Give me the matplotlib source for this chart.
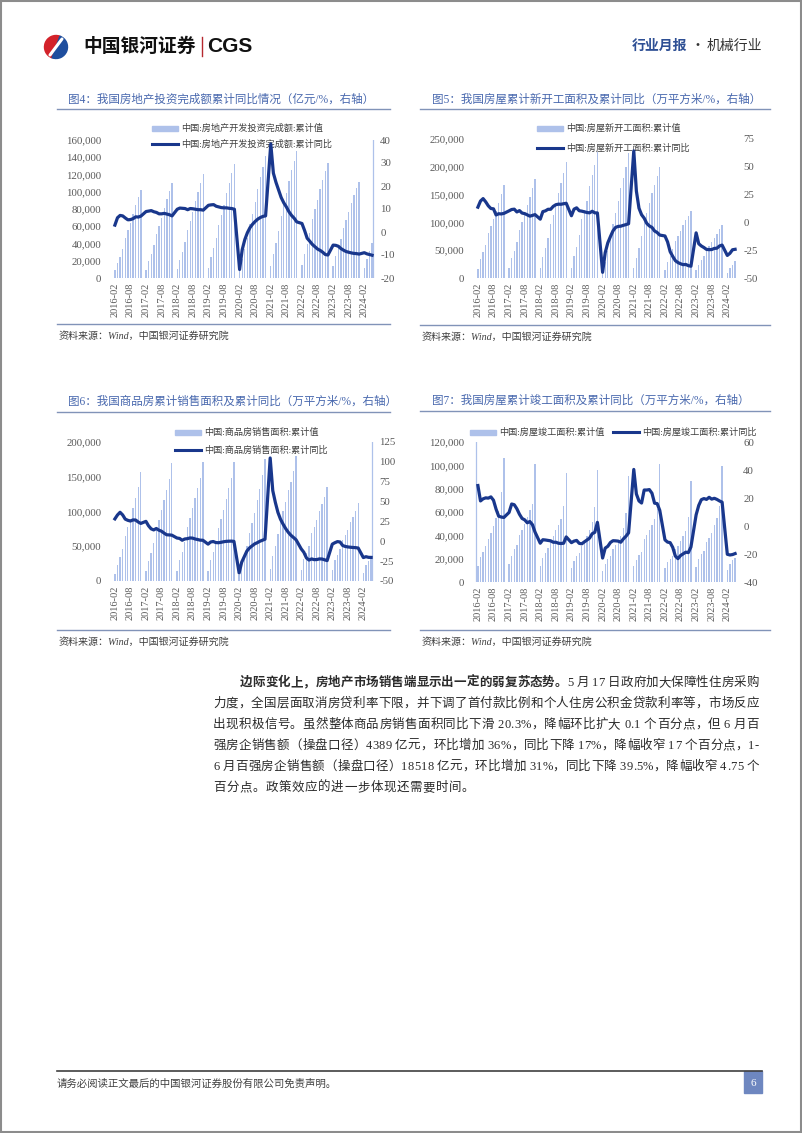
import numpy as np
import matplotlib
matplotlib.use("Agg")
import matplotlib.pyplot as plt
from matplotlib.patches import Rectangle, Wedge

SERIF = ['Liberation Serif', 'Noto Sans CJK SC', 'DejaVu Sans']
CJK = ['Noto Sans CJK SC', 'DejaVu Sans']
plt.rcParams['font.family'] = SERIF
plt.rcParams['axes.unicode_minus'] = False

BAR = '#AEC1EA'
LINE = '#19378C'
GRAY = '#595959'
TITLE = '#4868AE'
RULE = '#8193B8'

# ---- data: monthly cumulative (Jan-Feb merged), 2016-02 .. 2024-05 ----
months = []
for yr in range(2016, 2025):
    for mo in range(2, 13):
        if yr == 2024 and mo > 5:
            break
        months.append(f"{yr}-{mo:02d}")

# 房地产开发投资完成额 累计值 (亿元) / 累计同比 (%)
invest_cum = [8784, 17677, 24882, 33517, 46631, 55360, 64005, 74598, 84237, 93387, 102581,
              9478, 19292, 27732, 37703, 50610, 59761, 69694, 80644, 91174, 100387, 109799,
              10115, 21291, 30592, 41961, 55531, 66030, 76519, 88948, 99325, 110083, 120264,
              12090, 23803, 34217, 46075, 61609, 72843, 84589, 98008, 109603, 121265, 132194,
              10115, 21963, 33103, 45920, 62780, 74205, 88454, 103484, 116556, 128492, 141443,
              13986, 27576, 40240, 54318, 72179, 84895, 98060, 112568, 124934, 136084, 147602,
              14499, 27765, 39154, 52134, 68314, 79462, 90809, 103559, 113945, 123863, 132895,
              13669, 25974, 35514, 45701, 58550, 67717, 76900, 87269, 95922, 104045, 110913,
              11842, 22082, 30928, 40632]
invest_yoy = [3.0, 6.2, 7.2, 7.0, 6.1, 5.3, 5.4, 5.8, 6.6, 6.5, 6.9,
              8.9, 9.1, 9.3, 8.8, 8.5, 7.9, 7.9, 8.1, 7.8, 7.5, 7.0,
              9.9, 10.4, 10.3, 10.2, 9.7, 10.2, 10.1, 9.9, 9.7, 9.7, 9.5,
              11.6, 11.8, 11.9, 11.2, 10.9, 10.6, 10.5, 10.5, 10.3, 10.2, 9.9,
              -16.3, -7.7, -3.3, -0.3, 1.9, 3.4, 4.6, 5.6, 6.3, 6.8, 7.0,
              38.3, 25.6, 21.6, 18.3, 15.0, 12.7, 10.9, 8.8, 7.2, 6.0, 4.4,
              3.7, 0.7, -2.7, -4.0, -5.4, -6.4, -7.4, -8.0, -8.8, -9.8, -10.0,
              -5.7, -5.8, -6.2, -7.2, -7.9, -8.5, -8.8, -9.1, -9.3, -9.4, -9.6,
              -9.0, -9.5, -9.8, -10.1]

# 房屋新开工面积 累计值 (万平方米) / 累计同比 (%)
start_cum = [16228, 33703, 46436, 59845, 80569, 93285, 105734, 121285, 135150, 151075, 166928,
             17229, 35459, 48523, 64131, 86328, 100468, 114052, 132075, 145978, 162611, 178654,
             18245, 38470, 53309, 72542, 96969, 114047, 131553, 152424, 171195, 188894, 209342,
             18814, 39715, 55513, 77840, 105509, 121775, 138190, 165707, 185634, 203569, 227154,
             10370, 28203, 47768, 70525, 97536, 116103, 138387, 162163, 180719, 199630, 224433,
             17093, 36163, 53383, 75521, 101228, 117463, 135632, 152944, 166736, 182820, 198895,
             15237, 29638, 39739, 51628, 66423, 75126, 85122, 94767, 103722, 111632, 120587,
             13567, 24121, 31878, 39723, 49880, 56969, 63891, 72123, 79177, 87456, 95376,
             9429, 17339, 23510, 30090]
start_yoy = [13.7, 19.2, 21.4, 18.5, 14.9, 12.5, 12.2, 6.7, 7.8, 7.6, 8.1,
             10.4, 11.6, 11.9, 9.4, 10.6, 8.4, 7.9, 6.8, 5.6, 6.3, 7.0,
             2.9, 9.7, 10.4, 11.8, 11.8, 14.4, 15.9, 16.4, 16.3, 16.8, 17.2,
             6.0, 11.9, 13.1, 10.5, 10.1, 9.5, 8.9, 8.6, 10.0, 8.6, 8.5,
             -44.9, -27.2, -18.4, -12.8, -7.6, -4.5, -3.6, -3.4, -2.6, -2.0, -1.2,
             64.3, 28.2, 12.8, 6.9, 3.8, -0.9, -3.2, -4.5, -7.7, -9.1, -11.4,
             -12.2, -17.5, -26.3, -30.6, -34.4, -36.1, -37.2, -38.0, -37.8, -38.9, -39.4,
             -9.4, -19.2, -21.2, -22.6, -24.3, -24.5, -24.4, -23.4, -23.2, -21.2, -20.4,
             -29.7, -27.8, -24.6, -24.2]

# 商品房销售面积 累计值 (万平方米) / 累计同比 (%)
sales_cum = [10568, 23569, 33856, 45939, 64302, 77426, 89559, 105185, 118998, 135788, 157349,
             14048, 29135, 40739, 55120, 74662, 87816, 101486, 116179, 130254, 146071, 169408,
             14877, 30130, 41885, 56767, 77143, 90135, 104386, 120016, 133949, 148604, 171654,
             14102, 29829, 41120, 55518, 75786, 88680, 101849, 118504, 133251, 148905, 171558,
             8475, 21978, 33973, 50464, 69404, 83133, 98486, 117073, 132487, 152473, 176086,
             17363, 36007, 50585, 67074, 88635, 101356, 113981, 130332, 143041, 158068, 179433,
             15703, 31046, 39768, 50738, 68923, 78178, 87890, 101422, 111179, 121250, 135837,
             15133, 29946, 37636, 46440, 59515, 66563, 73949, 84806, 92579, 100509, 111735,
             11369, 22668, 29252, 36642]
sales_yoy = [28.2, 33.1, 36.5, 33.2, 27.9, 26.4, 25.5, 26.9, 26.8, 24.3, 22.5,
             25.1, 19.5, 15.7, 14.3, 16.1, 14.0, 12.7, 10.3, 8.2, 8.0, 7.7,
             4.1, 3.6, 1.3, 2.9, 3.3, 4.2, 4.0, 2.9, 2.2, 1.4, 1.3,
             -3.6, -0.9, -0.3, -1.6, -1.8, -1.3, -0.6, -0.1, 0.1, 0.2, -0.1,
             -39.9, -26.3, -19.3, -12.3, -8.4, -5.8, -3.3, -1.8, 0.0, 1.3, 2.6,
             104.9, 63.8, 48.9, 36.3, 27.7, 21.5, 15.9, 11.3, 7.6, 4.8, 1.9,
             -9.6, -13.8, -20.9, -23.6, -22.2, -23.1, -23.0, -22.2, -22.3, -23.3, -24.3,
             -3.6, -1.8, -0.4, -0.9, -5.3, -6.5, -7.1, -7.5, -7.8, -8.0, -8.5,
             -20.5, -19.4, -20.2, -20.3]

# 房屋竣工面积 累计值 (万平方米) / 累计同比 (%)
finish_cum = [14100, 21800, 26100, 30700, 37100, 42400, 47800, 54800, 61000, 77000, 106100,
              15500, 22700, 28000, 32000, 40100, 45000, 50000, 56000, 62000, 67000, 101500,
              13600, 20500, 25000, 28800, 35600, 39800, 44200, 49000, 54200, 65000, 93550,
              12100, 18300, 22500, 25200, 31100, 35300, 39800, 44700, 51200, 64000, 95900,
              9600, 15600, 19300, 22200, 27900, 31600, 35500, 39500, 46400, 59000, 91200,
              13500, 19200, 22800, 25900, 36500, 40600, 44700, 49000, 54100, 63000, 101400,
              12300, 16900, 19900, 21900, 28600, 31100, 35200, 39300, 44100, 55800, 86200,
              13200, 19400, 23700, 26200, 33900, 37500, 42100, 48700, 55200, 65200, 99800,
              10600, 15400, 18900, 21000]
finish_yoy = [28.9, 17.9, 19.4, 20.1, 19.9, 20.8, 18.4, 12.0, 7.0, 6.4, 6.1,
              9.7, 15.7, 15.2, 12.3, 8.4, 5.4, 4.4, 2.3, 3.2, 0.9, -4.4,
              -12.3, -9.8, -10.0, -10.3, -10.6, -11.6, -11.6, -12.3, -12.5, -12.3, -7.8,
              -11.9, -10.8, -10.3, -12.4, -12.7, -11.3, -10.0, -8.6, -5.5, -4.5, 2.6,
              -22.9, -15.8, -14.5, -11.8, -10.5, -10.6, -10.8, -11.6, -9.2, -7.3, -4.9,
              40.4, 22.9, 17.9, 16.4, 25.7, 25.7, 26.0, 23.4, 16.3, 16.0, 11.2,
              -9.9, -11.5, -11.9, -15.3, -21.5, -23.3, -21.1, -19.9, -18.7, -19.0, -15.0,
              8.0, 14.7, 18.8, 19.6, 19.0, 20.5, 19.2, 19.8, 19.0, 17.9, 17.0,
              -20.2, -20.7, -20.4, -19.7]

xpos = np.array([(int(s[:4]) - 2016) * 12 + int(s[5:]) - 2 for s in months])
tick_pos = np.arange(0, 97, 6)
tick_labels = [f"{2016 + p // 12}-{2 + p % 12:02d}" for p in tick_pos]

W, H = 802, 1133
fig = plt.figure(figsize=(W / 100, H / 100), dpi=100)
deco = fig.add_axes([0, 0, 1, 1])
deco.set_xlim(0, W)
deco.set_ylim(H, 0)
deco.axis('off')

# page frame
deco.add_patch(Rectangle((0.8, 0.8), W - 1.6, H - 1.6, fill=False, ec='#8C8C8C', lw=1.5))

# ---- header ----
deco.add_patch(Wedge((56, 47), 11.5, 110, 290, color='#D3222A'))
deco.add_patch(Wedge((56, 47), 11.5, 290, 110, color='#1E4E9E'))
deco.plot([50, 62], [55, 39], color='white', lw=2.2, solid_capstyle='round')
deco.text(83, 46, '中国银河证券', fontsize=13.5, fontweight='bold', family=CJK, va='center', color='#111111')
deco.plot([202, 202], [37, 56], color='#B5282E', lw=1.0)
deco.text(207, 46.5, 'CGS', fontsize=15, fontweight='bold', family=['Liberation Sans'], va='center', color='#111111')
deco.text(632, 46, '行业月报', fontsize=10, fontweight='bold', family=CJK, va='center', color='#2E4F94')
deco.text(697, 46, '·', fontsize=10, family=CJK, va='center', ha='center', color='#333333')
deco.text(707, 46, '机械行业', fontsize=10, family=CJK, va='center', color='#333333')


def chart(px, title, tpos, rules, cum, yoy, lmax, lstep, rlim, rstep, legend, edge=None):
    x0, x1, y0, y1 = px
    deco.text(tpos[0], tpos[1], title, fontsize=8.3, color=TITLE, va='center')
    (rx0, rx1), ry_top, ry_bot = rules
    deco.plot([rx0, rx1], [ry_top, ry_top], color=RULE, lw=1)
    deco.plot([rx0, rx1], [ry_bot, ry_bot], color=RULE, lw=1)
    deco.text(rx0 + 2, ry_bot + 12, '资料来源：Wind，中国银河证券研究院', fontsize=7.2,
              style='italic', color='#404040', va='center')
    for kind, lx, ly, txt in legend:
        if kind == 'bar':
            deco.add_patch(Rectangle((lx, ly - 2.5), 26, 5, color=BAR))
        else:
            deco.plot([lx, lx + 26], [ly, ly], color=LINE, lw=2.2)
        deco.text(lx + 29, ly, txt, fontsize=6.6, color='#404040', va='center')

    ax = fig.add_axes([x0 / W, 1 - y1 / H, (x1 - x0) / W, (y1 - y0) / H])
    ax.set_facecolor('none')
    ax.bar(xpos, cum, width=0.5, color=BAR, zorder=1)
    if edge is not None:
        ax.axvline(edge, color=BAR, lw=0.9)
    ax.set_xlim(-1.5, 100.5)
    ax.set_ylim(0, lmax)
    lt = np.arange(0, lmax + 1, lstep)
    ax.set_yticks(lt)
    ax.set_yticklabels([f"{v:,}" for v in lt])
    ax.set_xticks(tick_pos)
    ax.set_xticklabels(tick_labels, rotation=90)
    ax.tick_params(axis='y', length=0, pad=7, labelsize=7.8, labelcolor=GRAY)
    ax.tick_params(axis='x', length=0, pad=3.5, labelsize=7.5, labelcolor=GRAY)
    ax2 = ax.twinx()
    ax2.plot(xpos, yoy, color=LINE, lw=2.3, solid_joinstyle='round')
    ax2.set_ylim(*rlim)
    ax2.set_yticks(np.arange(rlim[0], rlim[1] + 1, rstep))
    ax2.tick_params(axis='y', length=0, pad=3, labelsize=7.8, labelcolor=GRAY)
    for a in (ax, ax2):
        for s in a.spines.values():
            s.set_visible(False)


chart((111, 376, 140, 278), '图4：我国房地产投资完成额累计同比情况（亿元/%，右轴）', (68, 100),
      ((57, 390), 109, 324), invest_cum, invest_yoy, 160000, 20000, (-20, 40), 10,
      [('bar', 152, 128, '中国:房地产开发投资完成额:累计值'),
       ('line', 152, 144, '中国:房地产开发投资完成额:累计同比')], edge=99.3)

chart((474, 739, 139, 278), '图5：我国房屋累计新开工面积及累计同比（万平方米/%，右轴）', (432, 100),
      ((420, 770), 109, 325), start_cum, start_yoy, 250000, 50000, (-50, 75), 25,
      [('bar', 537, 128, '中国:房屋新开工面积:累计值'),
       ('line', 537, 148, '中国:房屋新开工面积:累计同比')])

chart((111, 375, 442, 581), '图6：我国商品房累计销售面积及累计同比（万平方米/%，右轴）', (68, 402),
      ((57, 390), 412, 630), sales_cum, sales_yoy, 200000, 50000, (-50, 125), 25,
      [('bar', 175, 432, '中国:商品房销售面积:累计值'),
       ('line', 175, 450, '中国:商品房销售面积:累计同比')], edge=99.3)

chart((474, 739, 442, 582), '图7：我国房屋累计竣工面积及累计同比（万平方米/%，右轴）', (432, 401),
      ((420, 770), 411, 630), finish_cum, finish_yoy, 120000, 20000, (-40, 60), 20,
      [('bar', 470, 432, '中国:房屋竣工面积:累计值'),
       ('line', 613, 432, '中国:房屋竣工面积:累计同比')], edge=-0.6)

# ---- body paragraph (justified) ----
renderer = fig.canvas.get_renderer()


def para_line(y, segs, x0, x1=None, fs=9):
    items = []
    for s, w in segs:
        for ch in s:
            if ch == ' ':
                items.append((None, 3.0))
                continue
            t = deco.text(0, y, ch, fontsize=fs, fontweight=w, va='center', ha='left', color='#2B2B2B')
            items.append((t, t.get_window_extent(renderer=renderer).width))
    total = sum(w for _, w in items)
    gap = 0.6 if x1 is None else (x1 - x0 - total) / (len(items) - 1)
    x = x0
    for t, w in items:
        if t is not None:
            t.set_x(x)
        x += w + gap


para = [
    [('边际变化上，房地产市场销售端显示出一定的弱复苏态势。', 'bold'), ('5 月 17 日政府加大保障性住房采购', 'normal')],
    [('力度，全国层面取消房贷利率下限，并下调了首付款比例和个人住房公积金贷款利率等，市场反应', 'normal')],
    [('出现积极信号。虽然整体商品房销售面积同比下滑 20.3%，降幅环比扩大 0.1 个百分点，但 6 月百', 'normal')],
    [('强房企销售额（操盘口径）4389 亿元，环比增加 36%，同比下降 17%，降幅收窄 17 个百分点，1-', 'normal')],
    [('6 月百强房企销售额（操盘口径）18518 亿元，环比增加 31%，同比下降 39.5%，降幅收窄 4.75 个', 'normal')],
    [('百分点。政策效应的进一步体现还需要时间。', 'normal')],
]
for i, segs in enumerate(para):
    last = i == len(para) - 1
    para_line(683 + 21 * i, segs, 240 if i == 0 else 213, None if last else 759)

# ---- footer ----
deco.plot([57, 762], [1071, 1071], color='#404040', lw=1.2)
deco.text(57, 1084, '请务必阅读正文最后的中国银河证券股份有限公司免责声明。', fontsize=7.5, color='#404040', va='center')
deco.add_patch(Rectangle((744, 1071), 18, 22, color='#6E87C0'))
deco.text(753, 1083, '6', fontsize=8, color='white', ha='center', va='center')

fig.savefig('out.png', dpi=100)
